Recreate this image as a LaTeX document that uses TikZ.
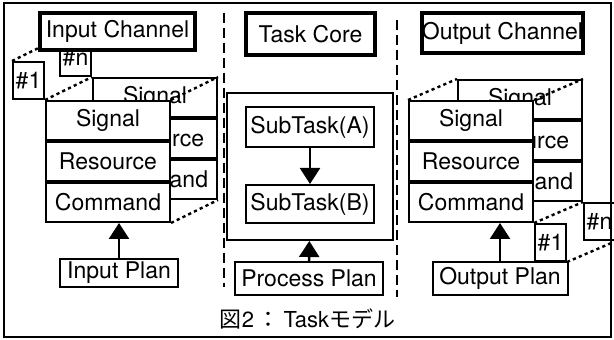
\documentclass[tikz,border=0pt]{standalone}
\usepackage{fontspec}
\setmainfont{TeX Gyre Heros}
\newfontfamily\cjk{Noto Sans CJK JP}
\usepackage{tikz}
\usetikzlibrary{calc, positioning, arrows.meta}

\pgfdeclarelayer{behind}
\pgfdeclarelayer{wires}
\pgfsetlayers{behind,wires,main}

\tikzset{
    thinbox/.style={draw, line width=1pt, fill=white, inner sep=0pt,
        font=\fontsize{11.5}{13}\selectfont},
    headbox/.style={thinbox, line width=2.4pt},
    row/.style={thinbox, minimum width=62pt, minimum height=19.5pt},
    tagbox/.style={thinbox, minimum width=15.5pt, minimum height=18.5pt},
    link/.style={line width=1.2pt, dash pattern=on 1.6pt off 1.6pt},
    colsep/.style={line width=1.1pt, dash pattern=on 5pt off 2.5pt},
}

\begin{document}
\begin{tikzpicture}[x=0.5pt, y=-0.5pt, >={Triangle[width=10pt, length=8pt]}]
    \useasboundingbox (0,0) rectangle (614,340);
    \draw[line width=1pt] (4,3) rectangle (611,337);

    % corners of the channel stacks
    \coordinate (IB) at (92,77);
    \coordinate (IF) at (45,100);
    \coordinate (OB) at (457,79);
    \coordinate (OF) at (408,100);

    % ---- input channel ----
    \begin{pgfonlayer}{behind}
        \node[row, anchor=north west] (ibsig) at (IB) {Signal};
        \node[row, below=0pt of ibsig] (ibres) {Resource};
        \node[row, below=0pt of ibres] (ibcmd) {Command};
        \node[tagbox, anchor=south east] (itagn) at (ibsig.north west) {\#n};
    \end{pgfonlayer}

    \node[row, anchor=north west] (ifsig) at (IF) {Signal};
    \node[row, below=0pt of ifsig] (ifres) {Resource};
    \node[row, below=0pt of ifres] (ifcmd) {Command};
    \node[tagbox, anchor=south east] (itag1) at (ifsig.north west) {\#1};

    \begin{pgfonlayer}{wires}
        \draw[link] (itag1.north west) -- (itagn.north west);
        \draw[link] (ifsig.north west) -- (ibsig.north west);
        \draw[link] (ifsig.north east) -- (ibsig.north east);
        \draw[link] (ifcmd.south east) -- (ibcmd.south east);
    \end{pgfonlayer}

    \node[headbox, minimum width=77.5pt, minimum height=18.5pt] (inchan) at (117.5,31.5) {Input Channel};
    \node[thinbox, minimum width=59pt, minimum height=14pt] (inplan) at (119,273) {Input Plan};
    \draw[->, line width=1.2pt] (inplan.north) -- (inplan.north |- ifcmd.south);

    % ---- task core ----
    \draw[colsep] (224,13) -- (224,287);
    \draw[colsep] (397,20) -- (397,297);

    \node[headbox, minimum width=64.5pt, minimum height=21pt] (taskcore) at (310.5,34) {Task Core};
    \node[thinbox, minimum width=83pt, minimum height=73.5pt] (core) at (310,166.5) {};
    \node[thinbox, minimum width=64pt, minimum height=20pt] (suba) at (310,127) {SubTask(A)};
    \node[thinbox, minimum width=64pt, minimum height=19pt] (subb) at (310,204) {SubTask(B)};
    \node[thinbox, minimum width=74pt, minimum height=16.5pt] (procplan) at (309,278.5) {Process Plan};
    \draw[->, line width=1.2pt] (suba) -- (subb);
    \draw[->, line width=1.2pt] (procplan) -- (core);

    % ---- output channel ----
    \begin{pgfonlayer}{behind}
        \node[row, anchor=north west] (obsig) at (OB) {Signal};
        \node[row, below=0pt of obsig] (obres) {Resource};
        \node[row, below=0pt of obres] (obcmd) {Command};
        \node[tagbox, anchor=north west] (otagn) at (obcmd.south east) {\#n};
    \end{pgfonlayer}

    \node[row, anchor=north west] (ofsig) at (OF) {Signal};
    \node[row, below=0pt of ofsig] (ofres) {Resource};
    \node[row, below=0pt of ofres] (ofcmd) {Command};
    \node[tagbox, anchor=north west] (otag1) at (ofcmd.south east) {\#1};

    \begin{pgfonlayer}{wires}
        \draw[link] (ofsig.north west) -- (obsig.north west);
        \draw[link] (ofsig.north east) -- (obsig.north east);
        \draw[link] (ofcmd.south east) -- (obcmd.south east);
        \draw[link] (otag1.south east) -- (otagn.south east);
    \end{pgfonlayer}

    \node[headbox, minimum width=79.5pt, minimum height=20pt] (outchan) at (502.5,33) {Output Channel};
    \node[thinbox, minimum width=67.5pt, minimum height=16.5pt] (outplan) at (500,278.5) {Output Plan};
    \draw[->, line width=1.2pt] (outplan.north) -- (outplan.north |- ofcmd.south);

    \node[font=\fontsize{11}{13}\selectfont] (caption) at (307.5,318.5)
        {{\cjk 図}2\,{\cjk ：}\,Task{\cjk モデル}};
\end{tikzpicture}
\end{document}
